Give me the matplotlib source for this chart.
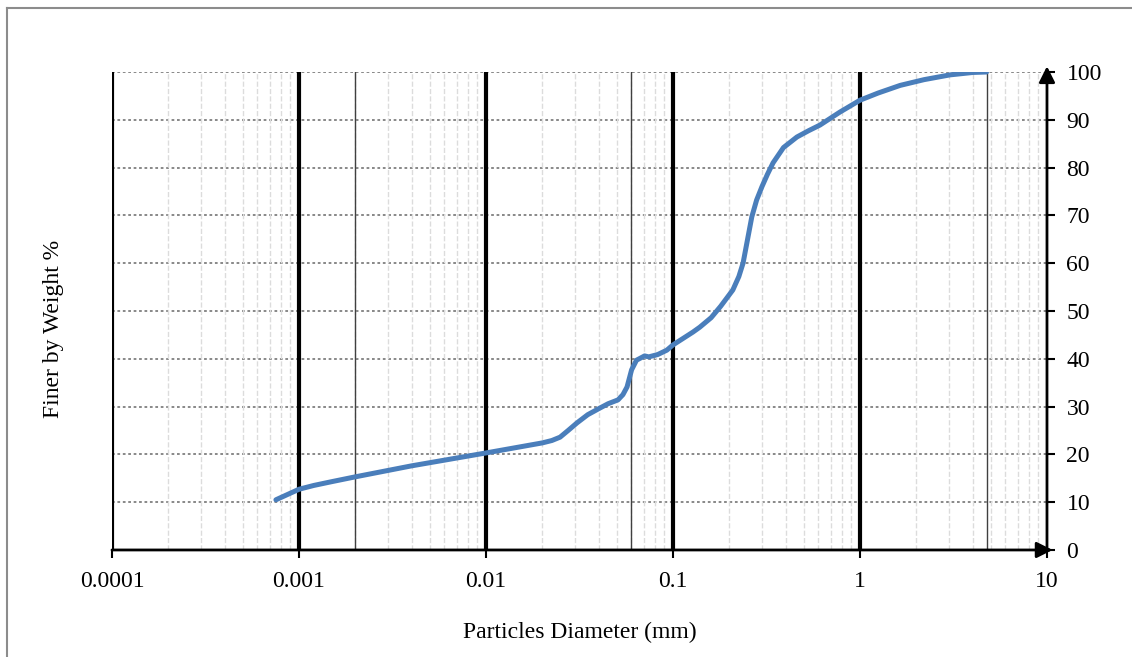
import matplotlib
matplotlib.use('Agg')
import matplotlib.pyplot as plt
from matplotlib.ticker import LogLocator, NullFormatter, FixedLocator

# grain size distribution
diameter_mm = [0.000753, 0.001, 0.0012, 0.0015, 0.002, 0.004, 0.01, 0.02,
               0.0225, 0.0249, 0.0275, 0.0307, 0.035, 0.0407, 0.045, 0.0508,
               0.054, 0.0568, 0.0601, 0.0638, 0.0705, 0.0743, 0.083, 0.0927,
               0.1, 0.128, 0.139, 0.16, 0.18, 0.209, 0.225, 0.237, 0.25,
               0.264, 0.28, 0.299, 0.32, 0.343, 0.39, 0.46, 0.53, 0.611,
               0.78, 1.0, 1.25, 1.64, 2.2, 3.03, 4.0, 4.75]
percent_finer = [10.5, 12.7, 13.5, 14.3, 15.3, 17.6, 20.3, 22.4,
                 22.9, 23.6, 25.0, 26.6, 28.3, 29.7, 30.6, 31.4,
                 32.5, 34.1, 37.7, 39.7, 40.6, 40.4, 40.9, 41.8,
                 42.9, 45.6, 46.6, 48.6, 51.0, 54.4, 57.2, 60.0, 64.8,
                 69.7, 73.2, 76.0, 78.6, 81.0, 84.2, 86.4, 87.7, 88.9,
                 91.6, 94.1, 95.6, 97.2, 98.4, 99.4, 99.9, 100.0]

decades = [0.0001, 0.001, 0.01, 0.1, 1, 10]
decade_labels = ['0.0001', '0.001', '0.01', '0.1', '1', '10']
boundaries = [0.002, 0.06, 4.75]   # clay/silt, silt/sand, sand/gravel
y_ticks = list(range(0, 101, 10))

plt.rcParams['font.family'] = ['Liberation Serif', 'DejaVu Serif']

fig = plt.figure(figsize=(11.32, 6.57), dpi=100)
ax = fig.add_axes([0.0989, 0.1629, 0.8260, 0.7275])

# outer chart border (left + top visible)
fig.add_artist(plt.Line2D([0.0066, 0.0066], [0.0, 0.988], transform=fig.transFigure,
                          color='#8c8c8c', lw=1.5))
fig.add_artist(plt.Line2D([0.0066, 1.0], [0.988, 0.988], transform=fig.transFigure,
                          color='#8c8c8c', lw=1.5))

ax.set_xscale('log')
ax.set_xlim(1e-4, 10)
ax.set_ylim(0, 100)

# minor vertical grid
ax.xaxis.set_minor_locator(LogLocator(base=10, subs=range(2, 10)))
ax.xaxis.set_minor_formatter(NullFormatter())
ax.grid(True, which='minor', axis='x', color='#dcdcdc', linestyle='--', lw=1)
# horizontal dotted grid
for yv in y_ticks[1:]:
    ax.axhline(yv, color='#7f7f7f', linestyle=(0, (1.5, 1.5)), lw=1.3, zorder=1)
# thick decade lines
for d in decades[:-1]:
    ax.axvline(d, color='black', lw=3, zorder=2)
# thin boundary lines
for b in boundaries:
    ax.axvline(b, color='#404040', lw=1, zorder=2)

ax.plot(diameter_mm, percent_finer, color='#4a7ebb', lw=3.6, zorder=5,
        solid_capstyle='round', solid_joinstyle='round')

for s in ['top', 'left', 'right', 'bottom']:
    ax.spines[s].set_visible(False)

ax.annotate('', xy=(1.006, 0), xytext=(0, 0), xycoords='axes fraction',
            arrowprops=dict(arrowstyle='-|>', lw=2, color='black',
                            mutation_scale=24, shrinkA=0, shrinkB=0))
ax.annotate('', xy=(1, 1.012), xytext=(1, 0), xycoords='axes fraction',
            arrowprops=dict(arrowstyle='-|>', lw=2, color='black',
                            mutation_scale=24, shrinkA=0, shrinkB=0))

ax.xaxis.set_major_locator(FixedLocator(decades))
ax.set_xticklabels(decade_labels)
ax.tick_params(axis='x', which='major', direction='out', length=6, width=1.5,
               labelsize=17, pad=9)
ax.tick_params(axis='x', which='minor', length=0)

ax.yaxis.tick_right()
ax.set_yticks(y_ticks)
ax.tick_params(axis='y', direction='out', length=6, width=1.5, labelsize=17, pad=8)

ax.set_xlabel('Particles Diameter (mm)', fontsize=17, labelpad=22)
fig.text(0.047, 0.5, 'Finer by Weight %', rotation=90, fontsize=17,
         va='center', ha='center')

fig.savefig('out.png', dpi=100)
